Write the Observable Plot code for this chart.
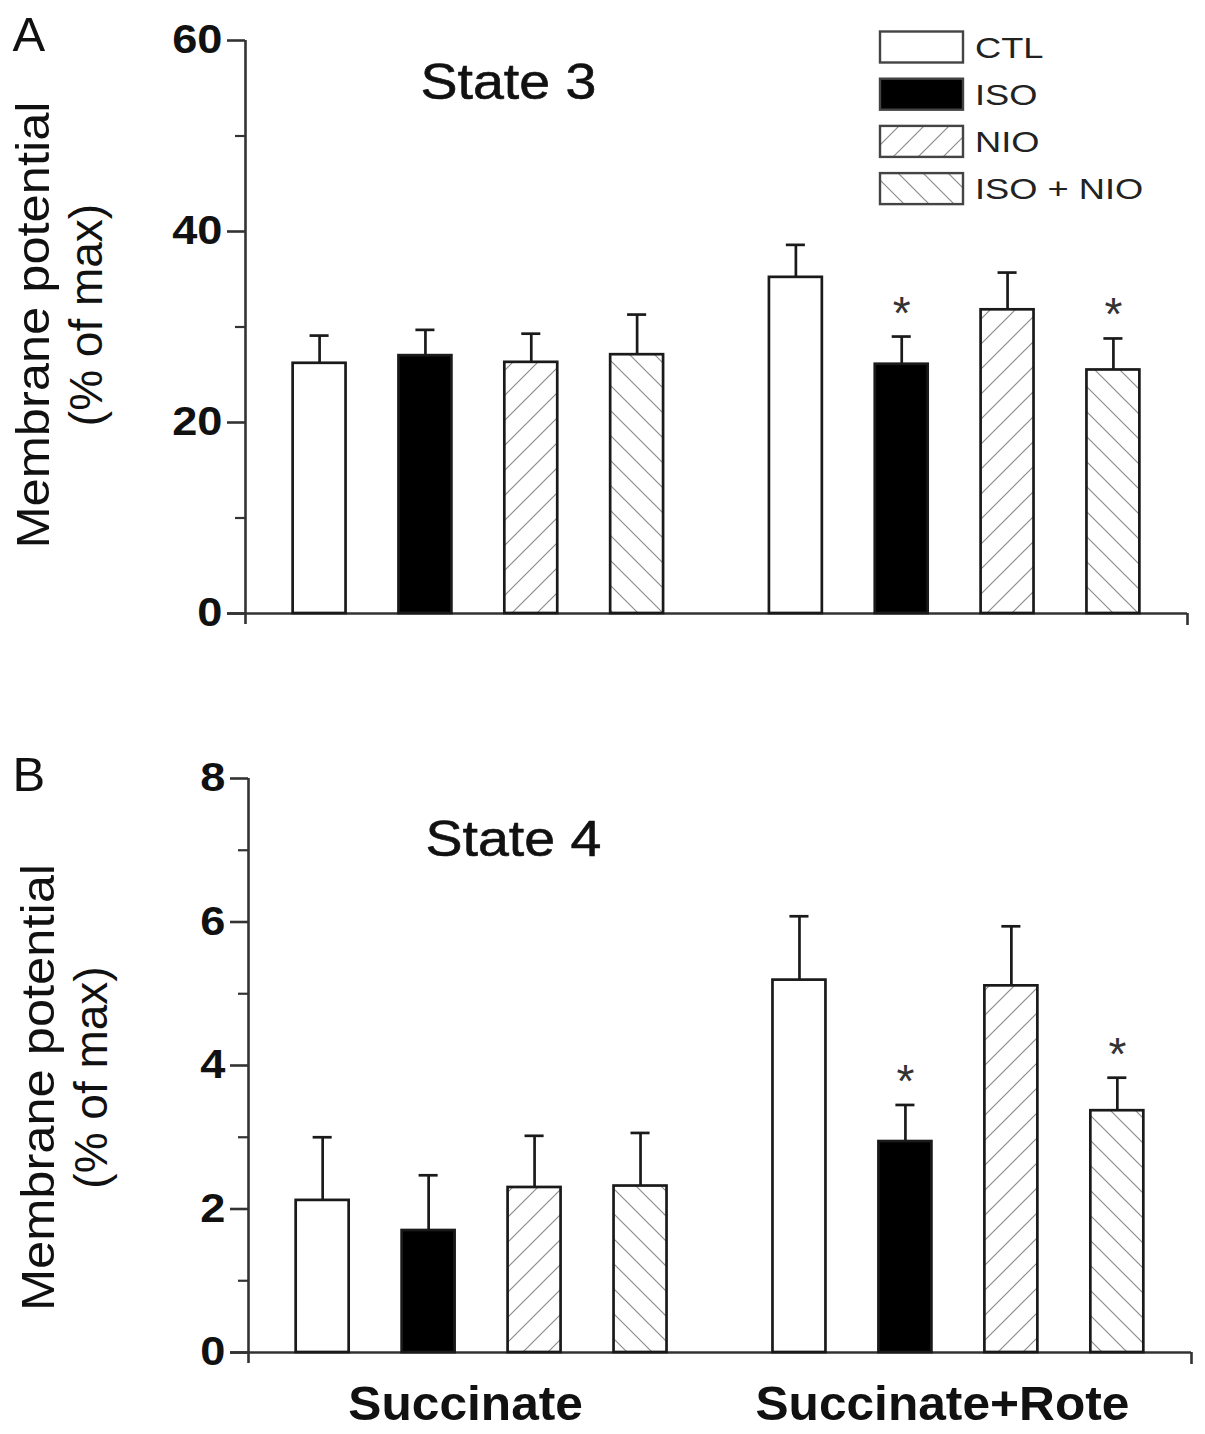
<!DOCTYPE html>
<html>
<head>
<meta charset="utf-8">
<script src="https://cdn.jsdelivr.net/npm/d3@7"></script>
<script src="https://cdn.jsdelivr.net/npm/@observablehq/plot@0.6"></script>
<style>
  body { margin: 0; background: #fff; }
  #wrap { position: relative; width: 1205px; height: 1434px; font-family: "Liberation Sans", Arial, sans-serif; }
  .panel { position: absolute; left: 0; }
  #legend { position: absolute; left: 0; top: 0; }
</style>
</head>
<body>
<svg width="0" height="0" style="position:absolute">
  <defs>
    <pattern id="hatchF" patternUnits="userSpaceOnUse" width="25" height="25">
      <rect width="25" height="25" fill="#fff"/>
      <path d="M-6.25,6.25 L6.25,-6.25 M0,25 L25,0 M18.75,31.25 L31.25,18.75" stroke="#8c8c8c" stroke-width="1.2"/>
    </pattern>
    <pattern id="hatchB" patternUnits="userSpaceOnUse" width="25" height="25">
      <rect width="25" height="25" fill="#fff"/>
      <path d="M-6.25,18.75 L6.25,31.25 M0,0 L25,25 M18.75,-6.25 L31.25,6.25" stroke="#8c8c8c" stroke-width="1.2"/>
    </pattern>
  </defs>
</svg>
<div id="wrap"></div>
<script>
// ---- data ----
const groups = ["Succinate", "Succinate+Rote"];
const treatments = ["CTL", "ISO", "NIO", "ISO + NIO"];
const treatmentFill = ["#fff", "#000", "url(#hatchF)", "url(#hatchB)"];

// order: Succinate (CTL, ISO, NIO, ISO+NIO), Succinate+Rote (CTL, ISO, NIO, ISO+NIO)
const state3Mean = [26.2, 27.0, 26.3, 27.1, 35.2, 26.1, 31.8, 25.5];
const state3Err  = [2.9, 2.7, 3.0, 4.2, 3.4, 2.9, 3.9, 3.3];
const state3Sig  = [false, false, false, false, false, true, false, true];

const state4Mean = [2.12, 1.70, 2.30, 2.32, 5.19, 2.94, 5.11, 3.37];
const state4Err  = [0.88, 0.77, 0.72, 0.74, 0.89, 0.51, 0.83, 0.46];
const state4Sig  = [false, false, false, false, false, true, false, true];

const state3Ticks = [0, 20, 40, 60];
const state3Minor = [10, 30, 50];
const state4Ticks = [0, 2, 4, 6, 8];
const state4Minor = [1, 3, 5, 7];

const yTitle1 = "Membrane potential";
const yTitle2 = "(% of max)";

// ---- helpers ----
const groupGap = 4.5; // slot offset between groups (in bar steps)
function rowsFor(means, errs, sigs) {
  const rows = [];
  groups.forEach((g, gi) => {
    treatments.forEach((t, ti) => {
      const i = gi * treatments.length + ti;
      rows.push({group: g, treatment: t, pos: gi * groupGap + ti, mean: means[i], err: errs[i], sig: sigs[i], fill: treatmentFill[ti]});
    });
  });
  return rows;
}
const groupCenters = groups.map((g, gi) => gi * groupGap + (treatments.length - 1) / 2);

const font = "Liberation Sans, Arial, sans-serif";
const ink = "#1a1a1a";

// widen glyphs horizontally (the reference type is slightly extended)
function stretchText(root, test, sx, sy = 1) {
  root.querySelectorAll("text").forEach(t => {
    if (!test(t.textContent)) return;
    let tr = t.getAttribute("transform");
    if (!tr) {
      const x = +t.getAttribute("x") || 0, y = +t.getAttribute("y") || 0;
      t.removeAttribute("x"); t.removeAttribute("y");
      tr = `translate(${x},${y})`;
    }
    t.setAttribute("transform", `${tr} scale(${sx},${sy})`);
  });
}

function panel({rows, ticks, minor, ymax, top, height, marginTop, marginBottom, marginLeft, marginRight,
                title, titleDx, titleDy, letter, letterDy, yt1, yt2, yt1Dy, yt2Dy, showX}) {
  const xd = [-0.7, 8.2];
  const marks = [
    Plot.ruleX([xd[0]], {y1: ymax, y2: 0, insetBottom: -11, stroke: "#333", strokeWidth: 2.6}),
    Plot.ruleY([0], {x1: xd[0], x2: xd[1], insetLeft: -18, stroke: "#333", strokeWidth: 2.6}),
    Plot.ruleX([xd[1]], {y1: 0, y2: 0, insetBottom: -12, stroke: "#333", strokeWidth: 2.6}),
    Plot.axisY({ticks, tickSize: 18, tickPadding: 5, fontSize: 40, fontWeight: "bold", fill: "#111", stroke: "#333", strokeWidth: 2.6, label: null}),
    Plot.axisY({ticks: minor, tickSize: 10, tickFormat: () => "", stroke: "#333", strokeWidth: 2.2, label: null}),
    Plot.ruleX(rows, {x: "pos", y1: "mean", y2: d => d.mean + d.err, stroke: ink, strokeWidth: 2.7}),
    Plot.ruleY(rows, {y: d => d.mean + d.err, x1: d => d.pos - 0.09, x2: d => d.pos + 0.09, stroke: ink, strokeWidth: 2.7}),
    Plot.rect(rows, {x1: d => d.pos - 0.25, x2: d => d.pos + 0.25, y1: 0, y2: "mean", fill: "fill", stroke: ink, strokeWidth: 2.7}),
    Plot.text(rows.filter(d => d.sig), {x: "pos", y: d => d.mean + d.err, text: () => "*", dy: -8, lineAnchor: "bottom", fontSize: 46, fill: "#333"}),
    Plot.text([title], {frameAnchor: "top-left", dx: titleDx, dy: titleDy, lineAnchor: "bottom", textAnchor: "start", fontSize: 50, fill: "#111", stroke: "#111", strokeWidth: 0.6}),
    Plot.text([letter], {frameAnchor: "top-left", dx: 12 - marginLeft, dy: letterDy, lineAnchor: "bottom", textAnchor: "start", fontSize: 49, fill: "#111"}),
    Plot.text([yTitle1], {frameAnchor: "left", rotate: -90, dx: yt1 - marginLeft, dy: yt1Dy, lineAnchor: "bottom", textAnchor: "middle", fontSize: 46, fill: "#111"}),
    Plot.text([yTitle2], {frameAnchor: "left", rotate: -90, dx: yt2 - marginLeft, dy: yt2Dy, lineAnchor: "bottom", textAnchor: "middle", fontSize: 46, fill: "#111"})
  ];
  if (showX) {
    marks.push(Plot.axisX({ticks: groupCenters, tickFormat: (d, i) => groups[i], tickSize: 0, tickPadding: 33, dx: -16, fontSize: 48, fontWeight: "bold", fill: "#111", label: null}));
  }
  const svg = Plot.plot({
    width: 1205, height, marginTop, marginBottom, marginLeft, marginRight,
    style: {fontFamily: font, background: "transparent", overflow: "visible"},
    x: {type: "linear", domain: xd, axis: null},
    y: {domain: [0, ymax], axis: null},
    color: {type: "identity"},
    marks
  });
  stretchText(svg, s => /^\d+$/.test(s), 1.13);
  stretchText(svg, s => s.startsWith("State"), 1.11);
  stretchText(svg, s => groups.includes(s), 1.035);
  stretchText(svg, s => s === yTitle1, 1.1);
  svg.classList.add("panel");
  svg.style.top = top + "px";
  return svg;
}

const wrap = document.getElementById("wrap");
wrap.appendChild(panel({
  rows: rowsFor(state3Mean, state3Err, state3Sig), ticks: state3Ticks, minor: state3Minor, ymax: 60,
  top: 0, height: 650, marginTop: 40, marginBottom: 37, marginLeft: 245, marginRight: 18,
  title: "State 3", titleDx: 175, titleDy: 58, letter: "A", letterDy: 10,
  yt1: 48, yt2: 101, yt1Dy: -2, yt2Dy: -12, showX: false
}));
wrap.appendChild(panel({
  rows: rowsFor(state4Mean, state4Err, state4Sig), ticks: state4Ticks, minor: state4Minor, ymax: 8,
  top: 700, height: 734, marginTop: 78, marginBottom: 82, marginLeft: 248, marginRight: 14,
  title: "State 4", titleDx: 177, titleDy: 77, letter: "B", letterDy: 12,
  yt1: 53, yt2: 106, yt1Dy: 22, yt2Dy: 12, showX: true
}));

// ---- legend (inside panel A, top right) ----
const NS = "http://www.w3.org/2000/svg";
const leg = document.createElementNS(NS, "svg");
leg.setAttribute("id", "legend");
leg.setAttribute("width", 1205);
leg.setAttribute("height", 240);
treatments.forEach((t, i) => {
  const cy = 47 + i * 47.2;
  const r = document.createElementNS(NS, "rect");
  r.setAttribute("x", 880); r.setAttribute("y", cy - 15.5);
  r.setAttribute("width", 83); r.setAttribute("height", 31);
  r.setAttribute("fill", treatmentFill[i]);
  r.setAttribute("stroke", "#444"); r.setAttribute("stroke-width", 2.4);
  leg.appendChild(r);
  const tx = document.createElementNS(NS, "text");
  tx.setAttribute("transform", `translate(975,${cy + 10.5}) scale(1.25,1)`);
  tx.setAttribute("font-size", 29);
  tx.setAttribute("font-family", font);
  tx.setAttribute("fill", "#222");
  tx.textContent = t;
  leg.appendChild(tx);
});
wrap.appendChild(leg);
</script>
</body>
</html>
